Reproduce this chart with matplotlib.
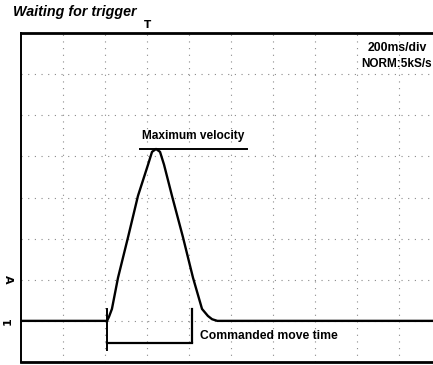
"""
Velocity profile on the scope: trapezoid-free move, waiting for trigger.
"""
import matplotlib
matplotlib.use("Agg")
import matplotlib.pyplot as plt

# time (ms) / velocity (divisions above channel ground)
t_ms = [0, 410, 419, 433, 462, 510, 557, 605, 624, 643, 662, 681, 719, 771, 819, 862, 890, 910, 935, 2000]
vel = [0, 0, 0.10, 0.29, 1.05, 2.04, 3.04, 3.80, 4.11, 4.18, 4.11, 3.80, 3.04, 2.04, 1.05, 0.29, 0.12, 0.04, 0, 0]

v_max = 4.18
vmax_span = (567, 1076)
move_start, move_end = 410, 814

ms_per_div = 200
n_xdiv, y_lo, y_hi = 10, -1, 7

W, H = 433, 365
fig = plt.figure(figsize=(W / 100, H / 100), dpi=100)
fig.patch.set_facecolor("white")
ax = fig.add_axes([21 / W, 3 / H, 420 / W, 329 / H])
ax.set_xlim(0, n_xdiv * ms_per_div)
ax.set_ylim(y_lo, y_hi)
ax.set_xticks([]); ax.set_yticks([])

for s in ("top", "bottom"):
    ax.spines[s].set_linewidth(2.0)
ax.spines["left"].set_linewidth(1.4)
ax.spines["right"].set_visible(False)

# graticule
for k in range(1, n_xdiv):
    ax.axvline(k * ms_per_div, color="#8a8a8a", lw=0.8, ls=(0, (1, 5)), zorder=0)
for k in range(y_lo + 1, y_hi):
    ax.axhline(k, color="#8a8a8a", lw=0.8, ls=(0, (1, 5)), zorder=0)

ax.plot(t_ms, vel, color="black", lw=1.7, solid_joinstyle="round", zorder=3)

lbl = dict(family="Liberation Sans", fontweight="bold")

# max velocity marker
ax.plot(vmax_span, [v_max, v_max], color="black", lw=1.4)
ax.text(sum(vmax_span) / 2, v_max + 0.16, "Maximum velocity", ha="center", va="bottom",
        fontsize=8.6, **lbl)

# commanded move time bracket
ax.plot([move_start, move_start], [0.29, -0.72], color="black", lw=1.4)
ax.plot([move_end, move_end], [0.29, -0.52], color="black", lw=1.6)
ax.plot([move_start, move_end], [-0.53, -0.53], color="black", lw=1.6)
ax.text(move_end + 40, -0.36, "Commanded move time", ha="left", va="center",
        fontsize=8.7, **lbl)

# channel / trigger markers
ax.text(-13 / 42 * ms_per_div, 0, "1", ha="center", va="center", rotation=90,
        fontsize=8, fontweight="bold", clip_on=False)
ax.text(-13 / 42 * ms_per_div, 1.0, "A", ha="center", va="center", rotation=-90,
        fontsize=8, fontweight="bold", clip_on=False)
ax.text(600, y_hi + 0.2, "T", ha="center", va="center",
        fontsize=7.5, fontweight="bold", clip_on=False)

ax.text(1652, 6.64, "200ms/div", ha="left", va="center", fontsize=8.8, **lbl)
ax.text(1620, 6.25, "NORM:5kS/s", ha="left", va="center", fontsize=8.5, **lbl)

fig.text(13 / W, 1 - 16 / H, "Waiting for trigger", ha="left", va="baseline",
         fontsize=10.3, style="italic", **lbl)

fig.savefig("out.png", dpi=100)
